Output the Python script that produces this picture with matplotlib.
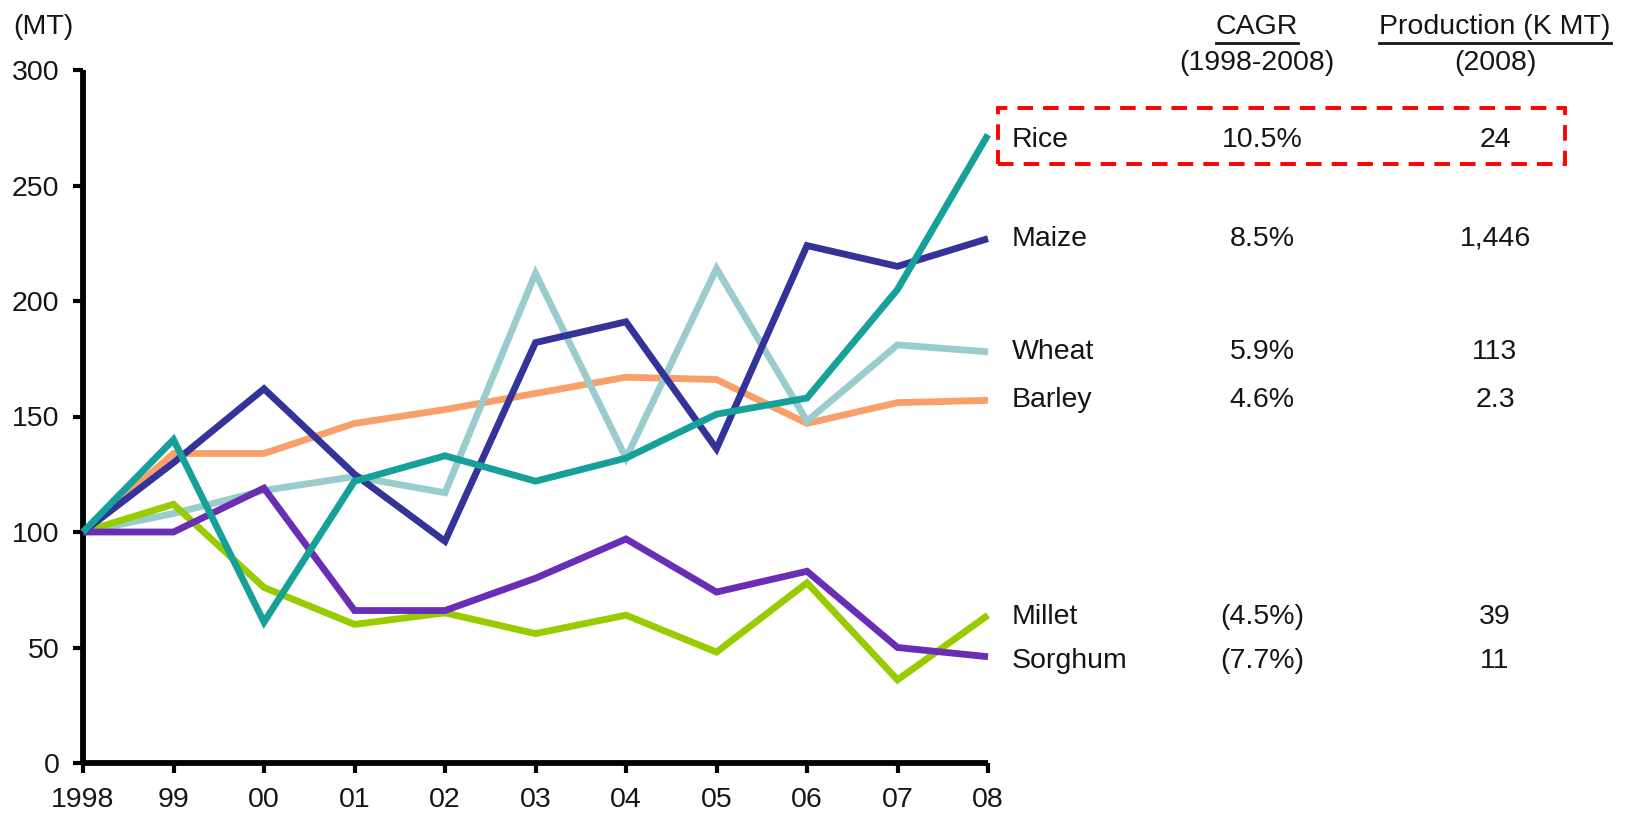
import matplotlib
matplotlib.use("Agg")
import matplotlib.pyplot as plt
import matplotlib.transforms as mtransforms
from matplotlib.patches import Rectangle
from matplotlib.lines import Line2D

plt.rcParams['font.family'] = ['Liberation Sans', 'DejaVu Sans']

years = [1998, 1999, 2000, 2001, 2002, 2003, 2004, 2005, 2006, 2007, 2008]
year_labels = ["1998", "99", "00", "01", "02", "03", "04", "05", "06", "07", "08"]

rice    = [100, 140, 61, 122, 133, 122, 132, 151, 158, 205, 272]
maize   = [100, 130, 162, 125, 96, 182, 191, 136, 224, 215, 227]
wheat   = [100, 108, 118, 124, 117, 212, 132, 214, 148, 181, 178]
barley  = [100, 134, 134, 147, 153, 160, 167, 166, 147, 156, 157]
millet  = [100, 112, 76, 60, 65, 56, 64, 48, 78, 36, 64]
sorghum = [100, 100, 119, 66, 66, 80, 97, 74, 83, 50, 46]

crops = ["Rice", "Maize", "Wheat", "Barley", "Millet", "Sorghum"]
cagr = ["10.5%", "8.5%", "5.9%", "4.6%", "(4.5%)", "(7.7%)"]
production = ["24", "1,446", "113", "2.3", "39", "11"]

series = [rice, maize, wheat, barley, millet, sorghum]
colors = ["#16A09A", "#333399", "#99CCCC", "#F9A06A", "#99CC00", "#6A2DB5"]
draw_order = [3, 2, 4, 5, 1, 0]
# small vertical nudges (in data units) for row labels
label_nudge = [-2.5, 0, 0, 0, -1, -2]

W, H = 1629, 814
fig = plt.figure(figsize=(W / 100, H / 100), dpi=100)
ax = fig.add_axes([83 / W, 1 - 763 / H, (988 - 83) / W, (763 - 70) / H])

for i in draw_order:
    ax.plot(years, series[i], color=colors[i], lw=4.9, solid_joinstyle='miter',
            solid_capstyle='butt', clip_on=False, zorder=3)

ax.set_xlim(1998, 2008)
ax.set_ylim(0, 300)
ax.set_xticks(years)
ax.set_xticklabels(year_labels)
ax.set_yticks(range(0, 301, 50))
for s in ['top', 'right']:
    ax.spines[s].set_visible(False)
for s in ['left', 'bottom']:
    ax.spines[s].set_linewidth(4.2)
    ax.spines[s].set_color('black')
    ax.spines[s].set_capstyle('butt')
ax.tick_params(axis='both', direction='out', length=7, width=3, labelsize=20.5,
               colors='black', labelcolor='#151515', pad=10)

txtc = '#151515'
fs = 20.5
fig.text(13 / W, 1 - 27 / H, "(MT)", fontsize=fs, va='center', ha='left', color=txtc)

trans = mtransforms.blended_transform_factory(fig.transFigure, ax.transData)
for name, c, p, s, nd in zip(crops, cagr, production, series, label_nudge):
    y = s[-1] + nd
    ax.text(1012 / W, y, name, transform=trans, fontsize=fs, va='center', ha='left',
            color=txtc, clip_on=False)
    ax.text(1262 / W, y, c, transform=trans, fontsize=fs, va='center', ha='center',
            color=txtc, clip_on=False)
    ax.text(1495 / W, y, p, transform=trans, fontsize=fs, va='center', ha='center',
            color=txtc, clip_on=False)

h1 = fig.text(1257 / W, 1 - 27 / H, "CAGR", fontsize=fs, ha='center', va='center', color=txtc)
h2 = fig.text(1257 / W, 1 - 63 / H, "(1998-2008)", fontsize=fs, ha='center', va='center', color=txtc)
h3 = fig.text(1495 / W, 1 - 27 / H, "Production (K MT)", fontsize=fs, ha='center', va='center', color=txtc)
h4 = fig.text(1495 / W, 1 - 63 / H, "(2008)", fontsize=fs, ha='center', va='center', color=txtc)

fig.canvas.draw()
r = fig.canvas.get_renderer()
for h in (h1, h3):
    bb = h.get_window_extent(r).transformed(fig.transFigure.inverted())
    yline = 1 - 42.5 / H
    fig.add_artist(Line2D([bb.x0, bb.x1], [yline, yline], transform=fig.transFigure,
                          color=txtc, lw=2.0))

rect = Rectangle((998 / W, 1 - 164 / H), (1565 - 998) / W, (164 - 108) / H,
                 transform=fig.transFigure, fill=False, edgecolor='#FF0000',
                 lw=2.8, linestyle=(0, (4, 2.6)))
fig.add_artist(rect)

fig.savefig("out.png", dpi=100, facecolor='white')
